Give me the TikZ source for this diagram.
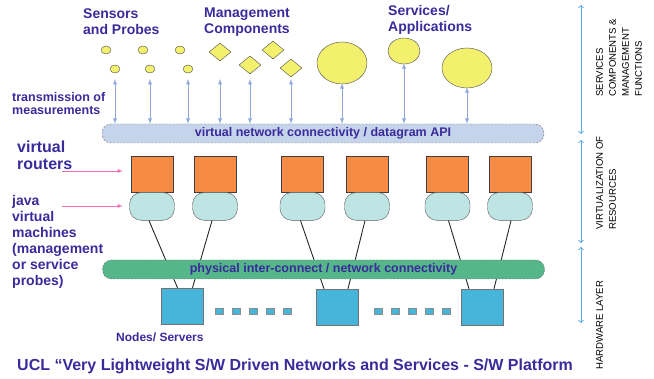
\documentclass[tikz,border=0pt]{standalone}
\usepackage{fontspec}
\setmainfont{Liberation Sans}
\usetikzlibrary{positioning}
\usetikzlibrary{shapes.geometric}

\definecolor{ucltext}{HTML}{3A2B9C}
\definecolor{uclyellow}{HTML}{F3F06E}
\definecolor{apiblue}{HTML}{C6D4EB}
\definecolor{physgreen}{HTML}{55B689}
\definecolor{routerorange}{HTML}{F78B45}
\definecolor{jvmcyan}{HTML}{BEE4E4}
\definecolor{serverblue}{HTML}{47B5D9}
\definecolor{transblue}{HTML}{8FA8DC}
\definecolor{layerblue}{HTML}{5AAAE6}
\definecolor{pointerpink}{HTML}{F26DB4}

\tikzset{
  headtxt/.style={anchor=west,align=left,inner sep=0pt,text=ucltext,font=\fontsize{14}{16}\selectfont\bfseries},
  sensor/.style={ellipse,draw=black!70,fill=uclyellow,minimum width=10pt,minimum height=8pt,inner sep=0pt},
  mgmt/.style={diamond,draw=black!70,fill=uclyellow,minimum width=22pt,minimum height=18pt,inner sep=0pt},
  app/.style={ellipse,draw=black!70,fill=uclyellow,inner sep=0pt},
  bar/.style={draw=black!55,dashed,dash pattern=on 2pt off 1.5pt,rounded corners=9pt,minimum width=442pt,minimum height=19pt,inner sep=0pt,text=ucltext,font=\fontsize{12.5}{13}\selectfont\bfseries},
  trans/.style={transblue,line width=0.9pt,latex-latex},
  router/.style={rectangle,draw=black!75,fill=routerorange,minimum width=42pt,minimum height=36pt,inner sep=0pt},
  jvm/.style={rectangle,rounded corners=12pt,draw=black!65,fill=jvmcyan,minimum width=45pt,minimum height=28pt,inner sep=0pt},
  server/.style={rectangle,draw=black!55,fill=serverblue,minimum width=42pt,minimum height=36pt,inner sep=0pt},
  tinybox/.style={rectangle,draw=black!45,fill=serverblue,minimum width=8pt,minimum height=6pt,inner sep=0pt},
  link/.style={black!85,line width=0.9pt},
  pointer/.style={pointerpink,line width=0.8pt,-latex},
  layerarrow/.style={layerblue,line width=1pt,to-to},
  layertxt/.style={rotate=90,anchor=north west,align=left,inner sep=0pt,font=\fontsize{9.6}{13}\selectfont}
}

\begin{document}
\begin{tikzpicture}[x=1pt,y=-1pt]
\useasboundingbox (0,0) rectangle (654,379);

\node[headtxt] (sensT) at (83,22) {Sensors\\and Probes};
\node[headtxt] (mgmtT) at (204,22) {Management\\Components};
\node[headtxt] (servT) at (388,20) {Services/\\Applications};

\node[sensor] (s1) at (106,50) {};
\node[sensor] (s2) at (143,50) {};
\node[sensor] (s3) at (180,50) {};
\node[sensor] (s4) at (115,69) {};
\node[sensor] (s5) at (150,69) {};
\node[sensor] (s6) at (188,69) {};

\node[mgmt] (d1) at (220,52) {};
\node[mgmt] (d2) at (250,65) {};
\node[mgmt] (d3) at (273,50) {};
\node[mgmt] (d4) at (291,68) {};

\node[app,minimum width=50pt,minimum height=42pt] (c1) at (342,63) {};
\node[app,minimum width=32pt,minimum height=26pt] (c2) at (404,51) {};
\node[app,minimum width=50pt,minimum height=40pt] (c3) at (467,68) {};

\node[headtxt,font=\fontsize{12.5}{13.5}\selectfont\bfseries] (transT) at (12,103.5) {transmission of\\measurements};

\node[bar,fill=apiblue] (api) at (323,133.5) {virtual network connectivity / datagram API};

\coordinate (arrtop) at (0,79);
\foreach \n in {s4,s5,s6,d1,d2,d4}
  \draw[trans] (\n |- arrtop) -- (\n |- api.north);
\foreach \n in {c1,c2,c3}
  \draw[trans] ([yshift=1pt]\n.south) -- (\n.south |- api.north);

\foreach \i/\x in {1/152,2/215,3/302.5,4/367,5/447.5,6/510} {
  \node[router] (r\i) at (\x,174) {};
  \node[jvm,below=0pt of r\i] (j\i) {};
}

\node[headtxt,font=\fontsize{16}{17}\selectfont\bfseries] (vrT) at (17,155) {virtual\\routers};
\node[headtxt] (jvmT) at (12,242) {java\\virtual\\machines\\(management\\or service\\probes)};

\coordinate (vrtail) at (62,171);
\coordinate (jvmtail) at (62,206);
\draw[pointer,shorten >=8pt] (vrtail) -- (vrtail -| r1.west);
\draw[pointer,shorten >=6.5pt] (jvmtail) -- (jvmtail -| j1.west);

\node[server] (srv1) at (182.5,306) {};
\node[server] (srv2) at (337,307) {};
\node[server] (srv3) at (482,307) {};

\foreach \a/\da/\b/\db in {j1/-3/srv1/-5,j2/-3/srv1/10,j3/-2/srv2/-13,j4/-2/srv2/11,j5/1/srv3/-13,j6/1/srv3/12}
  \draw[link] ([xshift=\da pt]\a.south) -- ([xshift=\db pt]\b.north);

\node[bar,fill=physgreen] (phys) at (323.5,269.5) {physical inter-connect / network connectivity};

\foreach \i/\x in {1/219,2/236,3/253,4/270,5/287}
  \node[tinybox] (ta\i) at (\x,311.5) {};
\foreach \i/\x in {1/378,2/395,3/412,4/429,5/446}
  \node[tinybox] (tb\i) at (\x,311.5) {};

\node[headtxt,font=\fontsize{12}{14}\selectfont\bfseries] (nodesT) at (116,337) {Nodes/ Servers};

\node[headtxt,font=\fontsize{16}{18}\selectfont\bfseries] (titleT) at (17,366) {UCL “Very Lightweight S/W Driven Networks and Services - S/W Platform};

\coordinate (la1) at (581,5);
\coordinate (la2) at (581,134);
\coordinate (lb1) at (581,140);
\coordinate (lb2) at (581,243);
\coordinate (lc1) at (581,247);
\coordinate (lc2) at (581,323);
\draw[layerarrow] (la1) -- (la2);
\draw[layerarrow] (lb1) -- (lb2);
\draw[layerarrow] (lc1) -- (lc2);

\node[layertxt] (layA) at (596,97) {SERVICES\\COMPONENTS \&\\MANAGEMENT\\FUNCTIONS};
\node[layertxt] (layB) at (596,230) {VIRTUALIZATION OF\\RESOURCES};
\node[layertxt] (layC) at (596,370) {HARDWARE LAYER};

\end{tikzpicture}
\end{document}
